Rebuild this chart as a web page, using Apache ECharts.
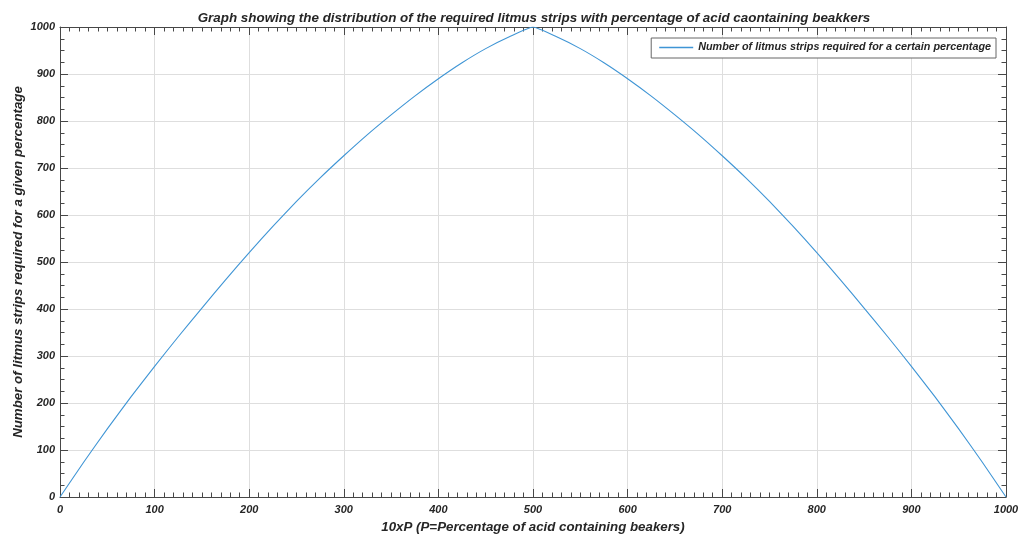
<!DOCTYPE html>
<html>
<head>
<meta charset="utf-8">
<script src="https://cdn.jsdelivr.net/npm/echarts@6/dist/echarts.min.js"></script>
<style>
html,body{margin:0;padding:0;background:#fff;}
#c{width:1021px;height:538px;}
</style>
</head>
<body>
<div id="c"></div>
<script>
// Data
var xValues = [0,25,50,75,100,125,150,175,200,225,250,275,300,325,350,375,400,425,450,475,500,
               525,550,575,600,625,650,675,700,725,750,775,800,825,850,875,900,925,950,975,1000];
var stripValues = [0,74,145,213,278,341,402,462,520,576,629,679,726,771,813,853,890,924,954,979,1000,
                   979,954,924,890,853,813,771,726,679,629,576,520,462,402,341,278,213,145,74,0];
var seriesName = 'Number of litmus strips required for a certain percentage';
var titleText = 'Graph showing the distribution of the required litmus strips with percentage of acid caontaining beakkers';
var xAxisName = '10xP (P=Percentage of acid containing beakers)';
var yAxisName = 'Number of litmus strips required for a given percentage';

var points = xValues.map(function (x, i) { return [x, stripValues[i]]; });

var FONT = '"Liberation Sans", Arial, Helvetica, sans-serif';
var axisColor = '#474747';
var textColor = '#262626';
var lineColor = '#3f95d5';

function baseAxis(extra) {
  var a = {
    type: 'value', min: 0, max: 1000, interval: 100,
    axisLine: { show: true, onZero: false, lineStyle: { color: axisColor, width: 1 } },
    axisTick: { show: true, inside: true, length: 8, lineStyle: { color: axisColor } },
    minorTick: { show: true, splitNumber: 10, length: 4.5, lineStyle: { color: axisColor } },
    splitLine: { show: false },
    axisLabel: { show: false }
  };
  for (var k in extra) a[k] = extra[k];
  return a;
}
var labelStyle = { fontFamily: FONT, fontSize: 11, fontWeight: 'bold', fontStyle: 'italic', color: textColor,
                   formatter: function (v) { return String(v); } };
var nameStyle = { fontFamily: FONT, fontSize: 13.3, fontWeight: 'bold', fontStyle: 'italic', color: textColor };
var gridLine = { show: true, lineStyle: { color: '#dedede', width: 1 } };

var chart = echarts.init(document.getElementById('c'), null, { renderer: 'canvas' });
chart.setOption({
  backgroundColor: '#ffffff',
  animation: false,
  title: {
    text: titleText, left: 529, top: 7, textAlign: 'center',
    textStyle: { fontFamily: FONT, fontSize: 13.4, fontWeight: 'bold', fontStyle: 'italic', color: textColor }
  },
  grid: { left: 60, right: 15, top: 27, bottom: 41, containLabel: false, outerBoundsMode: 'none' },
  legend: {
    data: [{ name: seriesName, icon: 'rect' }], right: 25, top: 38,
    backgroundColor: '#fff', borderColor: '#666', borderWidth: 1,
    padding: [4, 5, 5, 8], itemWidth: 34, itemHeight: 1.4, itemGap: 4,
    textStyle: { fontFamily: FONT, fontSize: 10.8, fontWeight: 'bold', fontStyle: 'italic', color: textColor }
  },
  xAxis: [
    baseAxis({
      position: 'bottom',
      name: xAxisName, nameLocation: 'middle', nameGap: 24,
      nameTextStyle: nameStyle,
      splitLine: gridLine,
      axisLabel: Object.assign({ show: true, margin: 7 }, labelStyle)
    }),
    baseAxis({ position: 'top' })
  ],
  yAxis: [
    baseAxis({
      position: 'left',
      minorTick: { show: true, splitNumber: 4, length: 4.5, lineStyle: { color: axisColor } },
      name: yAxisName, nameLocation: 'middle', nameGap: 35, nameMoveOverlap: false,
      nameTextStyle: nameStyle,
      splitLine: gridLine,
      axisLabel: Object.assign({ show: true, margin: 5 }, labelStyle)
    }),
    baseAxis({
      position: 'right',
      minorTick: { show: true, splitNumber: 4, length: 4.5, lineStyle: { color: axisColor } }
    })
  ],
  series: [{
    name: seriesName, type: 'line', xAxisIndex: 0, yAxisIndex: 0,
    data: points, showSymbol: false, symbol: 'none', smooth: 0.15,
    lineStyle: { color: lineColor, width: 1.1 },
    itemStyle: { color: lineColor }
  }]
});
</script>
</body>
</html>
